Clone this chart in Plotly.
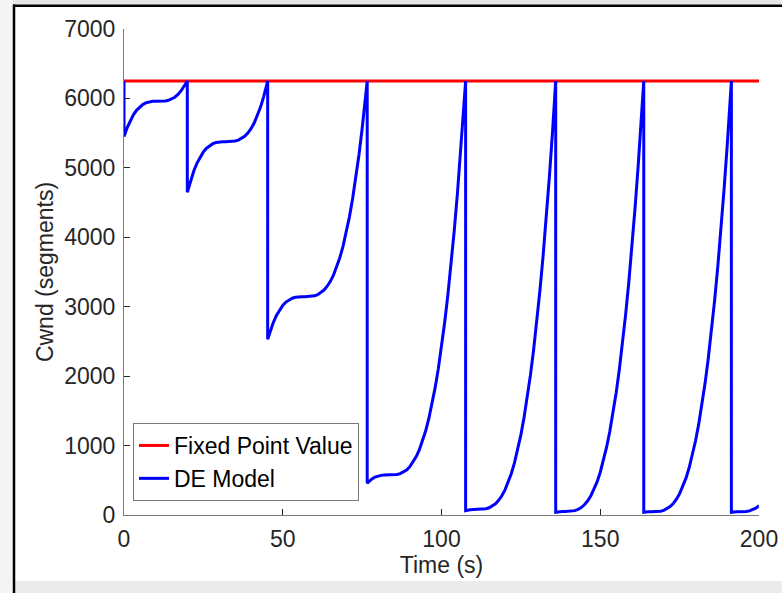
import plotly.graph_objects as go

# ---------------- data ----------------
fixed_point_time = [0, 200]
fixed_point_cwnd = [6250, 6250]

de_time = [
    0, 0, 1, 2, 3, 4, 5, 6, 7, 8, 9, 10, 11, 12, 13, 14, 15, 16, 17, 18, 19, 19.94,
    19.94, 21, 22, 23, 24, 25, 26, 27, 28, 29, 30, 31, 32, 33, 34, 35, 36, 37, 38, 39, 40,
    41, 42, 43, 44, 45, 45.25,
    45.25, 46, 47, 48, 49, 50, 51, 52, 53, 54, 55, 56, 57, 58, 59, 60, 61, 62, 63, 64, 65,
    66, 67, 68, 69, 70, 71, 72, 73, 74, 75, 76, 76.6,
    76.6, 77, 78, 79, 80, 81, 82, 83, 84, 85, 86, 87, 88, 89, 90, 91, 92, 93, 94, 95, 96,
    97, 98, 99, 100, 101, 102, 103, 104, 105, 106, 107, 107.6,
    107.6, 108, 109, 110, 111, 112, 113, 114, 115, 116, 117, 118, 119, 120, 121, 122, 123,
    124, 125, 126, 127, 128, 129, 130, 131, 132, 133, 134, 135, 135.97,
    135.97, 137, 138, 139, 140, 141, 142, 143, 144, 145, 146, 147, 148, 149, 150, 151, 152,
    153, 154, 155, 156, 157, 158, 159, 160, 161, 162, 163, 163.7,
    163.7, 164, 165, 166, 167, 168, 169, 170, 171, 172, 173, 174, 175, 176, 177, 178, 179,
    180, 181, 182, 183, 184, 185, 186, 187, 188, 189, 190, 191, 191.3,
    191.3, 192, 193, 194, 195, 196, 197, 198, 199, 200,
]
de_cwnd = [
    6250, 5450, 5579, 5684, 5768, 5833, 5881, 5915, 5938, 5951, 5958, 5960, 5960, 5961, 5964,
    5973, 5990, 6017, 6057, 6111, 6183, 6250,
    4648, 4822, 4958, 5069, 5159, 5230, 5283, 5321, 5348, 5364, 5373, 5376, 5377, 5377, 5379,
    5386, 5399, 5421, 5454, 5501, 5564, 5646, 5749, 5875, 6026, 6205, 6250,
    2531, 2643, 2770, 2873, 2956, 3019, 3067, 3100, 3122, 3135, 3142, 3144, 3144, 3145, 3148,
    3157, 3174, 3201, 3240, 3295, 3366, 3457, 3571, 3709, 3873, 4068, 4294, 4554, 4850, 5186,
    5563, 5983, 6250,
    457, 477, 517, 545, 562, 571, 575, 576, 576, 578, 584, 596, 617, 649, 695, 757, 837, 937,
    1061, 1210, 1387, 1594, 1834, 2108, 2420, 2772, 3166, 3604, 4088, 4622, 5208, 5848, 6250,
    62, 68, 76, 79, 80, 80, 83, 90, 104, 127, 162, 211, 277, 362, 468, 598, 754, 939, 1154,
    1403, 1688, 2011, 2374, 2781, 3232, 3732, 4281, 4884, 5541, 6250,
    39, 48, 50, 50, 51, 54, 63, 80, 107, 147, 201, 273, 364, 477, 616, 781, 976, 1202, 1462,
    1758, 2093, 2469, 2890, 3356, 3874, 4443, 5065, 5742, 6250,
    40, 43, 47, 48, 48, 50, 55, 67, 88, 120, 166, 227, 307, 407, 531, 680, 858, 1065, 1305,
    1581, 1893, 2246, 2640, 3080, 3566, 4102, 4689, 5330, 6027, 6250,
    40, 45, 48, 48, 48, 51, 59, 74, 98, 134,
]

x_ticks = [0, 50, 100, 150, 200]
y_ticks = [0, 1000, 2000, 3000, 4000, 5000, 6000, 7000]

# ---------------- layout geometry ----------------
W, H = 782, 593
ML, MR, MT, MB = 124, 23, 29, 78
PW, PH = W - ML - MR, H - MT - MB


def px(x):
    return (x - ML) / PW


def py(y):
    return (H - MB - y) / PH


FONT = "Liberation Sans, Arial, Helvetica, sans-serif"
TXT = "#262626"
FS = 23

fig = go.Figure()
fig.add_trace(go.Scatter(
    x=fixed_point_time, y=fixed_point_cwnd, mode="lines",
    name="Fixed Point Value", line=dict(color="#ff0000", width=3),
))
fig.add_trace(go.Scatter(
    x=de_time, y=de_cwnd, mode="lines",
    name="DE Model", line=dict(color="#0000ff", width=3),
))

axis_common = dict(
    showgrid=False, zeroline=False, showline=True, linecolor="#7a7a7a", linewidth=1,
    ticks="inside", ticklen=6, tickwidth=1, tickcolor="#262626",
    tickfont=dict(family=FONT, size=FS, color=TXT), mirror=False, automargin=False,
)

fig.update_layout(
    template="none",
    width=W, height=H, autosize=False,
    margin=dict(l=ML, r=MR, t=MT, b=MB, pad=0),
    paper_bgcolor="white", plot_bgcolor="white",
    font=dict(family=FONT, size=FS, color=TXT),
    xaxis=dict(range=[0, 200], tickvals=x_ticks, ticktext=[str(v) for v in x_ticks],
               title=dict(text="Time (s)", font=dict(family=FONT, size=FS, color=TXT), standoff=6),
               ticklabelstandoff=3, ticklabeloverflow="allow", **axis_common),
    yaxis=dict(range=[0, 7000], tickvals=y_ticks, ticktext=[str(v) for v in y_ticks],
               title=dict(text="Cwnd (segments)", font=dict(family=FONT, size=FS, color=TXT), standoff=4),
               ticklabelstandoff=3, **axis_common),
    legend=dict(
        x=px(133), y=py(501), xanchor="left", yanchor="bottom",
        bgcolor="white", bordercolor="#7a7a7a", borderwidth=1,
        font=dict(family=FONT, size=FS, color="black"),
        itemwidth=30, tracegroupgap=0,
    ),
    showlegend=True,
    shapes=[
        dict(type="rect", xref="paper", yref="paper", x0=px(0), x1=px(W), y0=py(0), y1=py(4.5),
             fillcolor="#e6e6e6", line=dict(width=0), layer="below"),
        dict(type="rect", xref="paper", yref="paper", x0=px(0), x1=px(12.8), y0=py(0), y1=py(H),
             fillcolor="#f4f4f4", line=dict(width=0), layer="below"),
        dict(type="rect", xref="paper", yref="paper", x0=px(15), x1=px(W), y0=py(581), y1=py(H),
             fillcolor="#ebebeb", line=dict(width=0), layer="below"),
        dict(type="line", xref="paper", yref="paper", x0=px(14), x1=px(14), y0=py(4.5), y1=py(H),
             line=dict(color="black", width=2.5)),
        dict(type="line", xref="paper", yref="paper", x0=px(13), x1=px(W), y0=py(5.7), y1=py(5.7),
             line=dict(color="black", width=2.5)),
    ],
)

fig.write_html("out.html")
